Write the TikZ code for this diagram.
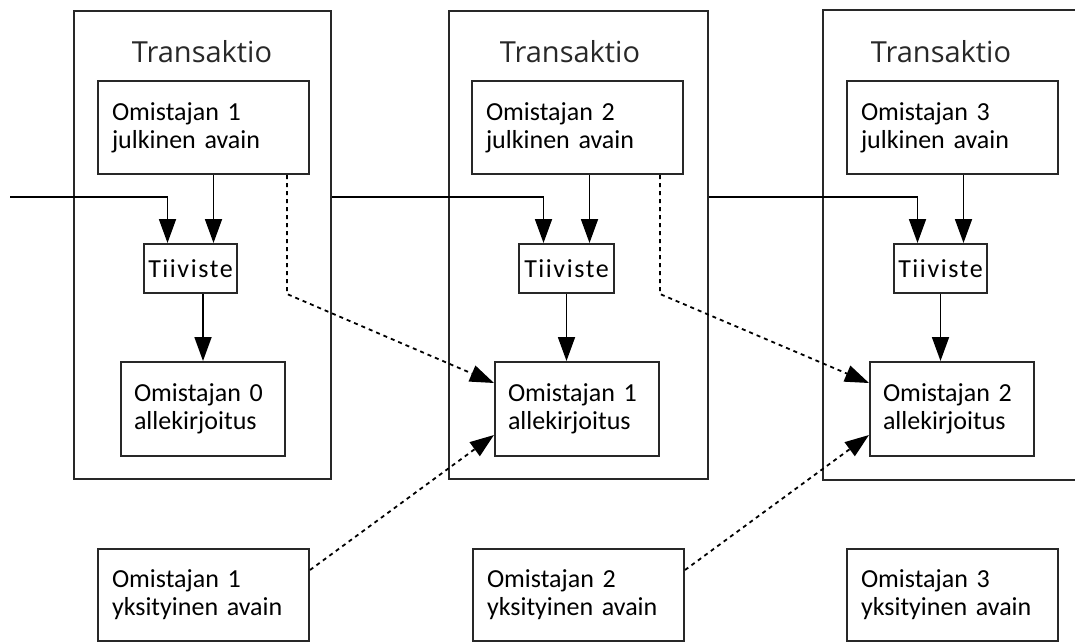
\documentclass[tikz,border=0pt]{standalone}
\usepackage{fontspec}
\setmainfont{Carlito}
\newfontfamily\titlefont{Open Sans}
\usepackage{tikz}
\usetikzlibrary{arrows.meta, positioning, calc}
\definecolor{lineblack}{RGB}{40, 40, 40}

\begin{document}
\begin{tikzpicture}[
  x=1pt, y=-1pt,
  txbox/.style    = {rectangle, draw=lineblack, line width=2pt, anchor=north west, inner sep=0pt},
  keybox/.style   = {rectangle, draw=lineblack, line width=2pt, anchor=north west,
                     minimum width=211pt, minimum height=93pt, text width=183pt,
                     inner xsep=14pt, align=left, font=\fontsize{26}{28}\selectfont},
  sigbox/.style   = {keybox, minimum width=164pt, minimum height=94pt, text width=138pt, inner xsep=13pt},
  hashbox/.style  = {rectangle, draw=lineblack, line width=2pt, anchor=north west,
                     minimum width=93pt, minimum height=49pt, inner sep=0pt,
                     font=\fontsize{26}{28}\selectfont\addfontfeature{LetterSpace=6}},
  title/.style    = {anchor=base, font=\titlefont\fontsize{29}{32}\selectfont, text=lineblack},
  arrow/.style    = {line width=1.8pt, draw=black, -{Triangle[width=17pt, length=24pt]}},
  dasharrow/.style = {arrow, dash pattern=on 4pt off 4pt}
]
\useasboundingbox (0,0) rectangle (1075,641);

% transaction frames (the last one is open at the page edge)
\node[txbox, minimum width=257pt, minimum height=468pt] (t1) at (73,10)  {};
\node[txbox, minimum width=259pt, minimum height=468pt] (t2) at (448,10) {};
\node[txbox, draw=none, minimum width=252pt, minimum height=468pt] (t3) at (823,10) {};
\draw[lineblack, line width=2pt] (t3.north east) -- (t3.north west) -- (t3.south west) -- (t3.south east);

\node[title] (n1) at (202,62) {Transaktio};
\node[title] (n2) at (570,62) {Transaktio};
\node[title] (n3) at (941,62) {Transaktio};

% public keys
\node[keybox] (pk1) at (97,80)  {Omistajan 1\\julkinen avain};
\node[keybox] (pk2) at (471,80) {Omistajan 2\\julkinen avain};
\node[keybox] (pk3) at (846,80) {Omistajan 3\\julkinen avain};

% hashes
\node[hashbox] (h1) at (143,243) {Tiiviste};
\node[hashbox, minimum width=95pt] (h2) at (518,243) {Tiiviste};
\node[hashbox] (h3) at (893,243) {Tiiviste};

% signatures
\node[sigbox] (s0) at (120,361) {Omistajan 0\\allekirjoitus};
\node[sigbox] (s1) at (494,361) {Omistajan 1\\allekirjoitus};
\node[sigbox] (s2) at (869,361) {Omistajan 2\\allekirjoitus};

% private keys
\node[keybox, minimum height=92pt] (p1) at (97,548)  {Omistajan 1\\yksityinen avain};
\node[keybox, minimum height=92pt] (p2) at (472,548) {Omistajan 2\\yksityinen avain};
\node[keybox, minimum height=92pt] (p3) at (846,548) {Omistajan 3\\yksityinen avain};

\coordinate (in) at (10,197);

% chain into each hash
\draw[arrow] (in) -| ([xshift=-23pt]h1.north);
\draw[arrow] (t1.east |- in) -| ([xshift=-23pt]h2.north);
\draw[arrow] (t2.east |- in) -| ([xshift=-23pt]h3.north);

% public key into hash
\draw[arrow] ([xshift=23pt]h1.north |- pk1.south) -- ([xshift=23pt]h1.north);
\draw[arrow] ([xshift=23pt]h2.north |- pk2.south) -- ([xshift=23pt]h2.north);
\draw[arrow] ([xshift=23pt]h3.north |- pk3.south) -- ([xshift=23pt]h3.north);

% hash into signature
\draw[arrow] (h1.south -| s0.north) -- (s0.north);
\draw[arrow] (h2.south) -- (h2.south |- s1.north);
\draw[arrow] (h3.south) -- (h3.south |- s2.north);

% verification by public key
\draw[dasharrow] ([xshift=-23pt]pk1.south east) -- ([xshift=-23pt]pk1.south east |- h1.south)
  -- ([yshift=-22pt]s1.north west);
\draw[dasharrow] ([xshift=-24pt]pk2.south east) -- ([xshift=-24pt]pk2.south east |- h2.south)
  -- ([yshift=-22pt]s2.north west);

% signing by private key
\draw[dasharrow] ([yshift=-22pt]p1.north east) -- ([yshift=22pt]s1.south west);
\draw[dasharrow] ([yshift=-22pt]p2.north east) -- ([yshift=22pt]s2.south west);

\end{tikzpicture}
\end{document}
